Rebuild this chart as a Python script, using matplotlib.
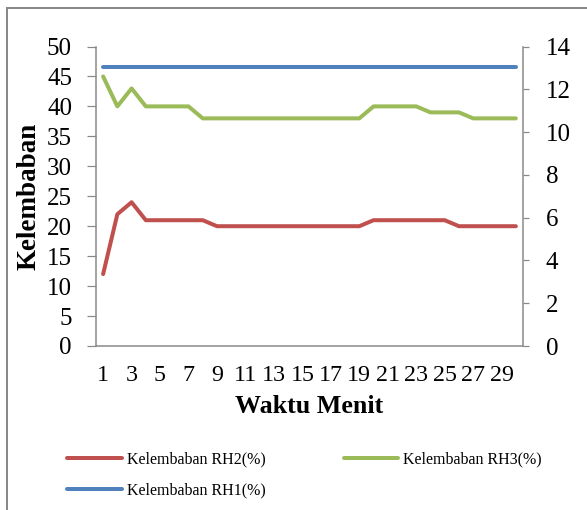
import matplotlib
matplotlib.use("Agg")
import matplotlib.pyplot as plt
from matplotlib.lines import Line2D

# data
menit = list(range(1, 31))
rh2 = [12, 22, 24, 21, 21, 21, 21, 21, 20, 20, 20, 20, 20, 20, 20,
       20, 20, 20, 20, 21, 21, 21, 21, 21, 21, 20, 20, 20, 20, 20]
rh3 = [45, 40, 43, 40, 40, 40, 40, 38, 38, 38, 38, 38, 38, 38, 38,
       38, 38, 38, 38, 40, 40, 40, 40, 39, 39, 39, 38, 38, 38, 38]
rh1 = [13.05] * 30  # secondary axis
xtick_labels = [str(i) for i in range(1, 31, 2)]

RED = "#C0504D"
GREEN = "#9BBB59"
BLUE = "#4F81BD"
GRAY = "#888888"

plt.rcParams['font.family'] = ['Liberation Serif', 'DejaVu Serif']

W, H = 587, 510
fig = plt.figure(figsize=(W / 72, H / 72), dpi=72)
ax = fig.add_axes([96 / W, 1 - 346 / H, (523 - 96) / W, (346 - 46.5) / H])
ax2 = ax.twinx()

l2, = ax.plot(menit, rh2, color=RED, lw=4, solid_capstyle='round', solid_joinstyle='round')
l3, = ax.plot(menit, rh3, color=GREEN, lw=4, solid_capstyle='round', solid_joinstyle='round')
l1, = ax2.plot(menit, rh1, color=BLUE, lw=4, solid_capstyle='round', solid_joinstyle='round')

ax.set_xlim(0.5, 30.5)
ax.set_ylim(0, 50)
ax2.set_ylim(0, 14)
ax.set_yticks(range(0, 51, 5))
ax2.set_yticks(range(0, 15, 2))
ax.set_xticks(range(1, 31, 2))
ax.set_xticklabels(xtick_labels)

for a in (ax, ax2):
    for s in a.spines.values():
        s.set_color(GRAY)
        s.set_linewidth(1.5)
    a.spines['top'].set_visible(False)
ax.spines['right'].set_visible(False)
ax2.spines['left'].set_visible(False)
ax2.spines['bottom'].set_visible(False)

ax.tick_params(axis='y', length=9, width=1.2, color=GRAY, pad=15, labelsize=25)
ax2.tick_params(axis='y', length=6, width=1.2, color=GRAY, pad=17, labelsize=25)
ax.tick_params(axis='x', length=0, pad=19, labelsize=24)

ax.set_xlabel("Waktu Menit", fontsize=26, fontweight='bold', labelpad=9)
ax.set_ylabel("Kelembaban", fontsize=27, fontweight='bold', labelpad=6)

fig.legend([l2, l1, l3],
           ["Kelembaban RH2(%)", "Kelembaban RH1(%)", "Kelembaban RH3(%)"],
           ncol=2, loc='upper left', bbox_to_anchor=(61 / W, 1 - 445 / H),
           frameon=False, fontsize=16, handlelength=3.4, handletextpad=0.3,
           columnspacing=4.9, labelspacing=0.95, borderaxespad=0)

# partial frame around chart area (left and top)
fig.add_artist(Line2D([7 / W, 7 / W], [0, 1 - 8 / H], transform=fig.transFigure, color=GRAY, lw=2))
fig.add_artist(Line2D([7 / W, 1], [1 - 8 / H, 1 - 8 / H], transform=fig.transFigure, color=GRAY, lw=2))

fig.savefig("out.png", dpi=72)
